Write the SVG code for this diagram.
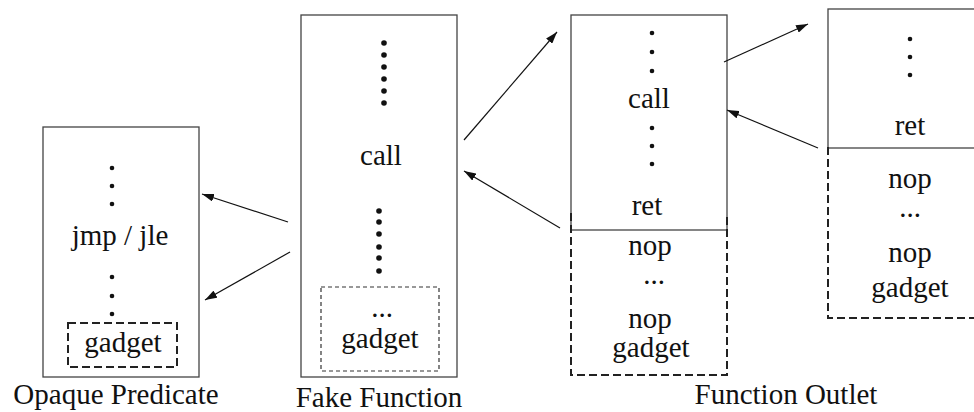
<svg xmlns="http://www.w3.org/2000/svg" width="974" height="412" viewBox="0 0 974 412" font-family="'Liberation Serif', 'DejaVu Serif', serif">
<style>
text{font-size:29px;fill:#111;text-anchor:middle}
.box{fill:none;stroke:#444;stroke-width:1.3}
.dash{fill:none;stroke:#222;stroke-width:2;stroke-dasharray:8 4}
.dashthin{fill:none;stroke:#333;stroke-width:1.2;stroke-dasharray:4 3}
.dot{fill:#111}
.conn{stroke:#111;stroke-width:1.2;fill:none;marker-end:url(#ah)}
</style>
<defs>
<marker id="ah" viewBox="0 0 12 8" refX="12" refY="4" markerWidth="12" markerHeight="8" markerUnits="userSpaceOnUse" orient="auto">
<path d="M0,0 L12,4 L0,8 Z" fill="#111"/>
</marker>
</defs>
<g id="opaque-predicate">
<rect class="box" x="43" y="127" width="156" height="250"/>
<circle class="dot" cx="112" cy="168" r="2.3"/><circle class="dot" cx="112" cy="186" r="2.3"/><circle class="dot" cx="112" cy="204" r="2.3"/>
<text x="120" y="245">jmp / jle</text>
<circle class="dot" cx="112" cy="277" r="2.3"/><circle class="dot" cx="112" cy="296" r="2.3"/><circle class="dot" cx="112" cy="314" r="2.3"/>
<rect class="dash" x="68" y="323" width="109" height="44"/>
<text x="123" y="352">gadget</text>
<text x="116" y="404">Opaque Predicate</text>
</g>
<g id="fake-function">
<rect class="box" x="301" y="15" width="156" height="362"/>
<circle class="dot" cx="384" cy="43" r="2.8"/><circle class="dot" cx="384" cy="55" r="2.8"/><circle class="dot" cx="384" cy="67" r="2.8"/><circle class="dot" cx="384" cy="79" r="2.8"/><circle class="dot" cx="384" cy="91" r="2.8"/><circle class="dot" cx="384" cy="103" r="2.8"/>
<text x="381" y="165">call</text>
<circle class="dot" cx="379" cy="211" r="2.8"/><circle class="dot" cx="379" cy="222" r="2.8"/><circle class="dot" cx="379" cy="234" r="2.8"/><circle class="dot" cx="379" cy="247" r="2.8"/><circle class="dot" cx="379" cy="258" r="2.8"/><circle class="dot" cx="379" cy="271" r="2.8"/>
<rect class="dashthin" x="321" y="287" width="118" height="84"/>
<text x="382" y="317">...</text>
<text x="380" y="348">gadget</text>
<text x="379" y="407">Fake Function</text>
</g>
<g id="function-outlet-1">
<rect class="box" x="571" y="15" width="156" height="215"/>
<circle class="dot" cx="652" cy="33" r="2.3"/><circle class="dot" cx="652" cy="52" r="2.3"/><circle class="dot" cx="652" cy="71" r="2.3"/>
<text x="649" y="108">call</text>
<circle class="dot" cx="652" cy="128" r="2.3"/><circle class="dot" cx="652" cy="146" r="2.3"/><circle class="dot" cx="652" cy="164" r="2.3"/>
<text x="647" y="215">ret</text>
<path class="dash" d="M571,213 V375 H727 V213"/>
<text x="650" y="255">nop</text>
<text x="654" y="284">...</text>
<text x="650" y="328">nop</text>
<text x="651" y="357">gadget</text>
</g>
<g id="function-outlet-2">
<rect class="box" x="828" y="9" width="160" height="139"/>
<circle class="dot" cx="910" cy="39" r="2.3"/><circle class="dot" cx="910" cy="57" r="2.3"/><circle class="dot" cx="910" cy="75" r="2.3"/>
<text x="910" y="135">ret</text>
<path class="dash" d="M828,147 V318 H976"/>
<text x="910" y="188">nop</text>
<text x="910" y="217">...</text>
<text x="910" y="262">nop</text>
<text x="910" y="297">gadget</text>
</g>
<text id="function-outlet-label" x="786" y="404">Function Outlet</text>
<g id="connectors">
<line class="conn" x1="288" y1="222" x2="202" y2="194"/>
<line class="conn" x1="290" y1="252" x2="205" y2="300"/>
<line class="conn" x1="464" y1="140" x2="557" y2="32"/>
<line class="conn" x1="560" y1="228" x2="464" y2="171"/>
<line class="conn" x1="724" y1="62" x2="808" y2="24"/>
<line class="conn" x1="818" y1="148" x2="727" y2="110"/>
</g>
</svg>
